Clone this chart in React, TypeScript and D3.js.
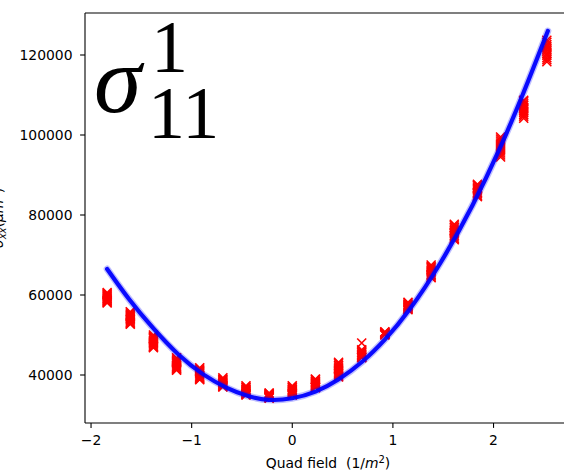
import React from "react";
import * as d3 from "d3";

const W = 564;
const H = 476;

// quad field settings (1/m^2)
const quadField = [-1.84, -1.61, -1.38, -1.15, -0.92, -0.69, -0.46, -0.23, 0, 0.23, 0.46, 0.69, 0.92, 1.15, 1.38, 1.61, 1.84, 2.07, 2.3, 2.53];

// measured sigma_xx shots per quad setting
const shots = [
  [60600, 60300, 60100, 59800, 59600, 59300, 59100, 58900, 58600, 58400, 58200, 58000],
  [55800, 55500, 55200, 54900, 54600, 54300, 54100, 53800, 53500, 53200, 52900, 52700],
  [50000, 49700, 49400, 49100, 48700, 48400, 48100, 47800, 47500, 47200, 47000, 46800],
  [44300, 44000, 43700, 43400, 43100, 42800, 42500, 42200, 41900, 41600, 41400, 41200],
  [41800, 41500, 41200, 40900, 40600, 40300, 40000, 39700, 39400, 39200, 39000, 38800],
  [39300, 39000, 38800, 38600, 38300, 38100, 37900, 37700, 37500, 37300, 37100, 37000],
  [37300, 37000, 36800, 36500, 36300, 36100, 35900, 35700, 35500, 35300, 35100, 35000],
  [35500, 35400, 35200, 35100, 34900, 34800, 34700, 34600, 34500, 34400, 34300, 34200],
  [37300, 37000, 36800, 36500, 36300, 36100, 35900, 35700, 35500, 35300, 35100, 35000],
  [39000, 38800, 38500, 38300, 38100, 37900, 37700, 37500, 37300, 37100, 36900, 36800],
  [43200, 42800, 42400, 42000, 41700, 41300, 41000, 40700, 40300, 40000, 39700, 39500],
  [48000, 46300, 46000, 45700, 45500, 45200, 45000, 44800, 44600, 44400, 44300],
  [50800, 50700, 50600, 50500, 50400, 50300, 50200, 50100, 50000],
  [58200, 58000, 57700, 57500, 57300, 57100, 56900, 56700, 56500, 56300],
  [67500, 67100, 66800, 66500, 66100, 65800, 65500, 65100, 64800, 64500, 64300],
  [77700, 77300, 76900, 76500, 76100, 75700, 75300, 74900, 74500, 74100, 73800],
  [87700, 87400, 87000, 86700, 86300, 86000, 85600, 85300, 84900, 84600],
  [99500, 99000, 98500, 98000, 97500, 97000, 96500, 96000, 95500, 95000, 94500],
  [108700, 108300, 107800, 107400, 106900, 106500, 106000, 105600, 105100, 104700, 104200],
  [123700, 123200, 122600, 122100, 121500, 121000, 120400, 119900, 119300, 118800, 118300],
];

// fitted curve
const fitX = [-1.84, -1.63, -1.38, -1.13, -0.89, -0.64, -0.45, -0.24, 0, 0.23, 0.46, 0.7, 0.92, 1.15, 1.47, 1.8, 2.07, 2.3, 2.54];
const fitY = [66500, 59000, 51500, 44800, 40000, 36500, 34700, 33500, 34000, 35600, 38700, 43200, 48700, 55500, 67500, 82500, 96800, 110500, 126000];

const xTicks = [-2, -1, 0, 1, 2];
const yTicks = [40000, 60000, 80000, 100000, 120000];

const left = 85;
const right = 571;
const top = 13;
const bottom = 423;

export default function App() {
  const x = d3.scaleLinear().domain([-2.06, 2.77]).range([left, right]);
  const y = d3.scaleLinear().domain([28000, 130500]).range([bottom, top]);

  const fitPts: [number, number][] = fitX.map((v, i) => [v, fitY[i]]);
  const line = d3
    .line<[number, number]>()
    .x((d) => x(d[0]))
    .y((d) => y(d[1]))
    .curve(d3.curveBasis);
  const path = line(fitPts) || "";

  const font = "'DejaVu Sans', sans-serif";
  const fs = 13.9;
  const m = 4.5;

  return (
    <svg width={W} height={H} style={{ position: "absolute", left: 0, top: 0, background: "#fff" }}>
      <rect x={0} y={0} width={W} height={H} fill="#fff" />
      {/* markers */}
      <g stroke="#ff0000" strokeWidth={1.6} strokeLinecap="butt">
        {shots.map((arr, i) =>
          arr.map((v, j) => {
            const cx = x(quadField[i]);
            const cy = y(v);
            return (
              <path
                key={`${i}-${j}`}
                d={`M${cx - m},${cy - m}L${cx + m},${cy + m}M${cx - m},${cy + m}L${cx + m},${cy - m}`}
              />
            );
          })
        )}
      </g>
      {/* fit curve */}
      <path d={path} fill="none" stroke="#0000ff" strokeOpacity={0.25} strokeWidth={7} strokeLinecap="round" />
      <path d={path} fill="none" stroke="#0000ff" strokeOpacity={0.95} strokeWidth={4.2} strokeLinecap="round" />

      {/* spines */}
      <g stroke="#000" strokeWidth={1.1} fill="none">
        <line x1={left} y1={top} x2={left} y2={bottom} />
        <line x1={left} y1={bottom} x2={right} y2={bottom} />
        <line x1={left} y1={top} x2={right} y2={top} />
        <line x1={right} y1={top} x2={right} y2={bottom} />
      </g>

      {/* ticks */}
      <g fontFamily={font} fontSize={fs} fill="#000">
        {xTicks.map((t) => (
          <g key={t}>
            <line x1={x(t)} x2={x(t)} y1={bottom} y2={bottom + 4.9} stroke="#000" strokeWidth={1.1} />
            <text x={x(t)} y={bottom + 22} textAnchor="middle">
              {t < 0 ? `\u2212${Math.abs(t)}` : `${t}`}
            </text>
          </g>
        ))}
        {yTicks.map((t) => (
          <g key={t}>
            <line x1={left - 4.9} x2={left} y1={y(t)} y2={y(t)} stroke="#000" strokeWidth={1.1} />
            <text x={left - 12.5} y={y(t) + 5} textAnchor="end">
              {t}
            </text>
          </g>
        ))}
      </g>

      {/* x label */}
      <text x={(left + right) / 2} y={468} textAnchor="middle" fontFamily={font} fontSize={fs} fill="#000">
        {"Quad field\u00a0\u00a0(1/"}
        <tspan fontStyle="italic">m</tspan>
        <tspan dy={-5} fontSize={10}>2</tspan>
        <tspan dy={5}>)</tspan>
      </text>

      {/* y label (cut off at the left edge, as in the reference) */}
      <text
        transform={`translate(3, ${(top + bottom) / 2}) rotate(-90)`}
        textAnchor="middle"
        fontFamily={font}
        fontSize={fs}
        fill="#000"
      >
        <tspan fontStyle="italic">σ</tspan>
        <tspan dy={3} fontSize={10} fontStyle="italic">xx</tspan>
        <tspan dy={-3}>(</tspan>
        <tspan fontStyle="italic">μm</tspan>
        <tspan dy={-5} fontSize={10}>2</tspan>
        <tspan dy={5}>)</tspan>
      </text>

      {/* big annotation */}
      <g fontFamily="'Liberation Serif', 'DejaVu Serif', serif" fill="#000">
        <text x={94} y={112} fontSize={96} fontStyle="italic">σ</text>
        <text x={151} y={72} fontSize={74}>1</text>
        <text x={148} y={138} fontSize={74}>11</text>
      </g>
    </svg>
  );
}
